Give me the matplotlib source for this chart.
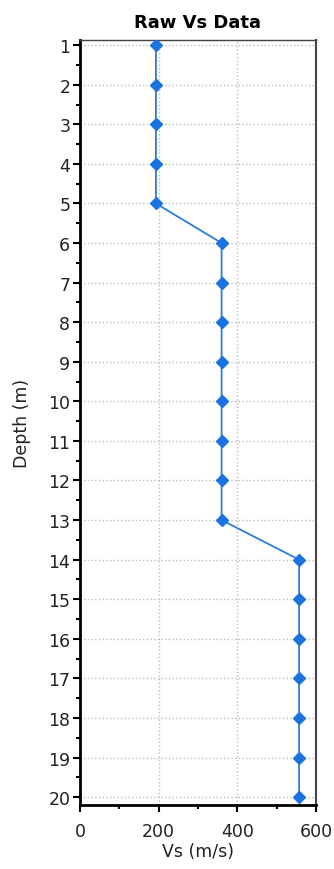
import numpy as np
import matplotlib
matplotlib.use('Agg')
import matplotlib.pyplot as plt
from matplotlib.ticker import MultipleLocator

# Raw Vs profile
depth = [1, 2, 3, 4, 5, 6, 7, 8, 9, 10, 11, 12, 13, 14, 15, 16, 17, 18, 19, 20]
vs    = [193, 193, 193, 193, 193,
         360, 360, 360, 360, 360, 360, 360, 360,
         557, 557, 557, 557, 557, 557, 557]

fig = plt.figure(figsize=(3.34, 8.7), dpi=100)
ax = fig.add_axes([80 / 334, 1 - 806 / 870, 236 / 334, 765 / 870])

ax.plot(vs, depth, color='#2a7fd4', lw=1.3, marker='D', ms=6,
        mfc='#1a73e0', mec='#1a73e0', zorder=3)

ax.set_xlim(0, 600)
ax.set_ylim(20.2, 0.87)
ax.set_xticks([0, 200, 400, 600])
ax.set_yticks(depth)
ax.xaxis.set_minor_locator(MultipleLocator(100))
ax.yaxis.set_minor_locator(MultipleLocator(0.5))

ax.grid(True, which='major', color='#bbbbbb', ls=':', lw=1)
ax.tick_params(which='major', direction='out', length=5, width=1.5,
               labelsize=12.5, colors='black', labelcolor='#222222')
ax.tick_params(which='minor', direction='out', length=3, width=1.5)
ax.tick_params(axis='y', pad=2)
ax.tick_params(axis='x', pad=7)

for side in ['left', 'bottom']:
    ax.spines[side].set_linewidth(2)
    ax.spines[side].set_color('black')
for side in ['right', 'top']:
    ax.spines[side].set_linewidth(1.5)
    ax.spines[side].set_color('#444444')
ax.spines['top'].set_linewidth(1)

ax.set_title('Raw Vs Data', fontsize=13, fontweight='bold', pad=9)
ax.set_xlabel('Vs (m/s)', fontsize=12.5, labelpad=2, color='#222222')
ax.set_ylabel('Depth (m)', fontsize=12.5, labelpad=12, color='#222222')

fig.savefig('out.png', dpi=100)
plt.close()
